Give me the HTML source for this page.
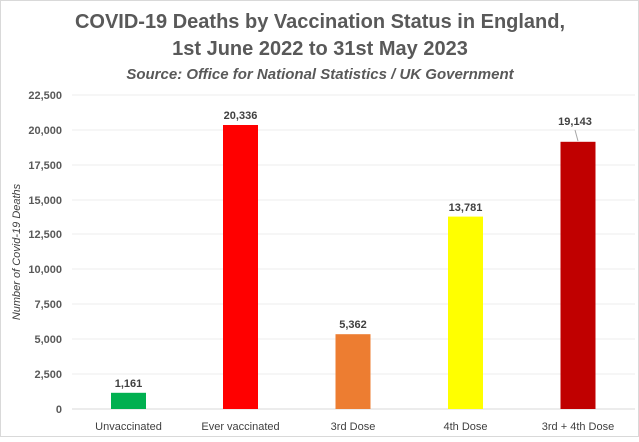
<!DOCTYPE html><html><head><style>body{margin:0;background:#fff}svg text{font-family:"Liberation Sans",sans-serif}</style></head><body>
<svg width="639" height="437" xmlns="http://www.w3.org/2000/svg">
<rect x="0.5" y="0.5" width="638" height="436" fill="#fff" stroke="#d9d9d9"/>
<text x="320" y="28" text-anchor="middle" font-size="20" font-weight="bold" fill="#595959">COVID-19 Deaths by Vaccination Status in England,</text>
<text x="320" y="55" text-anchor="middle" font-size="20" font-weight="bold" fill="#595959">1st June 2022 to 31st May 2023</text>
<text x="320" y="79" text-anchor="middle" font-size="15" font-weight="bold" font-style="italic" fill="#595959">Source: Office for National Statistics / UK Government</text>
<g stroke="#eeeeee" stroke-width="1">
<line x1="72" x2="635" y1="95" y2="95"/><line x1="72" x2="635" y1="130" y2="130"/><line x1="72" x2="635" y1="165" y2="165"/><line x1="72" x2="635" y1="200" y2="200"/><line x1="72" x2="635" y1="234" y2="234"/><line x1="72" x2="635" y1="269" y2="269"/><line x1="72" x2="635" y1="304" y2="304"/><line x1="72" x2="635" y1="339" y2="339"/><line x1="72" x2="635" y1="374" y2="374"/></g>
<line x1="72" x2="635" y1="409" y2="409" stroke="#d9d9d9"/>
<g font-size="11" font-weight="bold" fill="#595959" text-anchor="end">
<text x="62" y="99">22,500</text><text x="62" y="134">20,000</text><text x="62" y="169">17,500</text><text x="62" y="204">15,000</text><text x="62" y="238">12,500</text><text x="62" y="273">10,000</text><text x="62" y="308">7,500</text><text x="62" y="343">5,000</text><text x="62" y="378">2,500</text><text x="62" y="413">0</text></g>
<text transform="translate(20,252) rotate(-90)" text-anchor="middle" font-size="11" font-style="italic" fill="#404040">Number of Covid-19 Deaths</text>
<rect x="111" y="392.8" width="35" height="16.2" fill="#00b050"/>
<rect x="223" y="125" width="35" height="284" fill="#ff0000"/>
<rect x="335.5" y="334.2" width="35" height="74.8" fill="#ed7d31"/>
<rect x="448" y="216.6" width="35" height="192.4" fill="#ffff00"/>
<rect x="560.5" y="141.8" width="35" height="267.2" fill="#c00000"/>
<line x1="578" y1="141" x2="575" y2="130" stroke="#a6a6a6"/>
<g font-size="11" font-weight="bold" fill="#404040" text-anchor="middle">
<text x="128.5" y="387">1,161</text><text x="240.5" y="119">20,336</text><text x="353" y="328">5,362</text><text x="465.5" y="211">13,781</text><text x="575" y="125">19,143</text></g>
<g font-size="11" fill="#404040" text-anchor="middle">
<text x="128.5" y="430">Unvaccinated</text><text x="240.5" y="430">Ever vaccinated</text><text x="353" y="430">3rd Dose</text><text x="465.5" y="430">4th Dose</text><text x="578" y="430">3rd + 4th Dose</text></g>
</svg></body></html>
